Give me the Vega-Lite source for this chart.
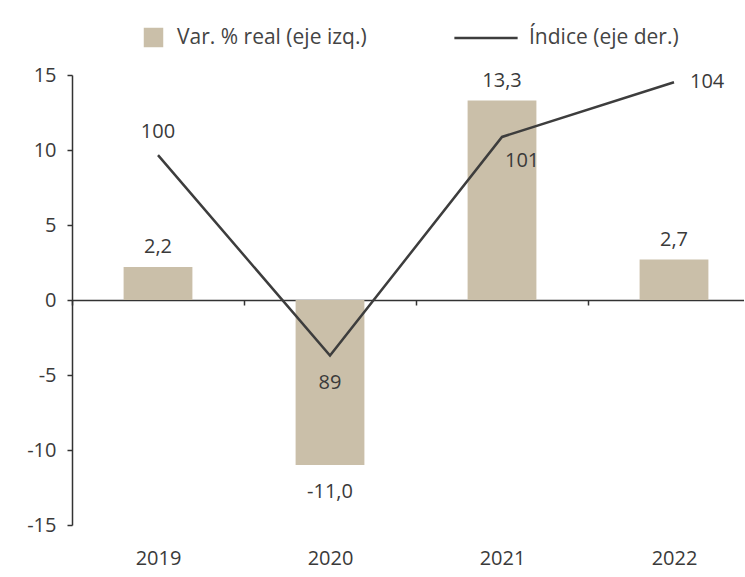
{
  "$schema": "https://vega.github.io/schema/vega-lite/v6.json",
  "width": 672,
  "height": 450,
  "autosize": "none",
  "padding": {"left": 72, "top": 75, "right": 0, "bottom": 52},
  "background": "white",
  "config": {
    "locale": {"number": {"decimal": ",", "thousands": ".", "grouping": [3], "currency": ["", " €"], "minus": "-"}},
    "view": {"stroke": null},
    "font": "Open Sans",
    "text": {"font": "Open Sans", "fontSize": 20, "color": "#3a3a3a"}
  },
  "data": {"values": [
    {"year": "2019", "var": 2.2, "indice": 100},
    {"year": "2020", "var": -11.0, "indice": 89},
    {"year": "2021", "var": 13.3, "indice": 101},
    {"year": "2022", "var": 2.7, "indice": 104}
  ]},
  "encoding": {
    "x": {
      "field": "year", "type": "ordinal",
      "scale": {"range": [0, 688], "paddingInner": 0, "paddingOuter": 0},
      "axis": {
        "orient": "bottom", "offset": -225, "title": null, "labelAngle": 0,
        "domainColor": "#333", "domainWidth": 1.5,
        "tickColor": "#333", "tickWidth": 1.5, "tickSize": 5, "tickBand": "extent",
        "labelPadding": 243, "labelFontSize": 20, "labelColor": "#3a3a3a", "labelFont": "Open Sans"
      }
    }
  },
  "layer": [
    {
      "encoding": {
        "y": {
          "field": "var", "type": "quantitative",
          "scale": {"domain": [-15, 15], "nice": false, "zero": false},
          "axis": {
            "values": [-15, -10, -5, 0, 5, 10, 15], "format": "d", "title": null, "grid": false,
            "domainColor": "#333", "domainWidth": 1.5,
            "tickColor": "#333", "tickWidth": 1.5, "tickSize": 5,
            "labelPadding": 11, "labelFontSize": 20, "labelColor": "#3a3a3a", "labelFont": "Open Sans"
          }
        }
      },
      "layer": [
        {
          "mark": {"type": "bar", "width": {"band": 0.4}},
          "encoding": {
            "fill": {
              "datum": "Var. % real (eje izq.)", "type": "nominal",
              "scale": {"range": ["#cabfa9"]},
              "legend": {
                "orient": "none", "legendX": 71, "legendY": -48, "title": null,
                "symbolType": "square", "symbolSize": 380, "symbolStrokeWidth": 0,
                "labelFontSize": 21, "labelLimit": 400, "labelColor": "#444", "labelOffset": 13, "labelFont": "Open Sans"
              }
            }
          }
        },
        {
          "transform": [{"filter": "datum.var >= 0"}],
          "mark": {"type": "text", "baseline": "bottom", "dy": -10},
          "encoding": {"text": {"field": "var", "type": "quantitative", "format": ".1f"}}
        },
        {
          "transform": [{"filter": "datum.var < 0"}],
          "mark": {"type": "text", "baseline": "top", "dy": 17},
          "encoding": {"text": {"field": "var", "type": "quantitative", "format": ".1f"}}
        }
      ]
    },
    {
      "encoding": {
        "y": {
          "field": "indice", "type": "quantitative",
          "scale": {"domain": [79.7, 104.4], "nice": false, "zero": false},
          "axis": null
        }
      },
      "layer": [
        {
          "mark": {"type": "line", "strokeWidth": 2.5},
          "encoding": {
            "stroke": {
              "datum": "Índice (eje der.)", "type": "nominal",
              "scale": {"range": ["#3d3d3d"]},
              "legend": {
                "orient": "none", "legendX": 381, "legendY": -70, "title": null,
                "symbolType": "stroke", "symbolSize": 4000, "symbolStrokeWidth": 2.5,
                "labelFontSize": 21, "labelLimit": 400, "labelColor": "#444", "labelOffset": 10, "labelFont": "Open Sans"
              }
            }
          }
        },
        {
          "transform": [{"filter": "datum.year == '2019'"}],
          "mark": {"type": "text", "baseline": "bottom", "dy": -13},
          "encoding": {"text": {"field": "indice", "type": "quantitative", "format": "d"}}
        },
        {
          "transform": [{"filter": "datum.year == '2020'"}],
          "mark": {"type": "text", "baseline": "top", "dy": 17},
          "encoding": {"text": {"field": "indice", "type": "quantitative", "format": "d"}}
        },
        {
          "transform": [{"filter": "datum.year == '2021'"}],
          "mark": {"type": "text", "baseline": "top", "align": "left", "dx": 3, "dy": 14},
          "encoding": {"text": {"field": "indice", "type": "quantitative", "format": "d"}}
        },
        {
          "transform": [{"filter": "datum.year == '2022'"}],
          "mark": {"type": "text", "baseline": "middle", "align": "left", "dx": 16, "dy": 0},
          "encoding": {"text": {"field": "indice", "type": "quantitative", "format": "d"}}
        }
      ]
    }
  ],
  "resolve": {"scale": {"y": "independent"}}
}
